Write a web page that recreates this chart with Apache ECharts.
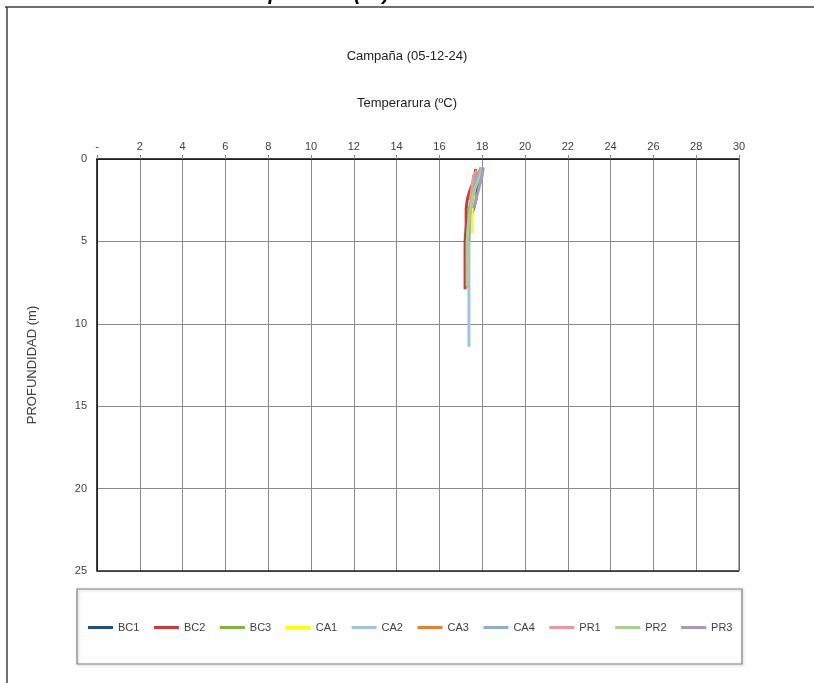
<!DOCTYPE html>
<html>
<head>
<meta charset="utf-8">
<script src="https://cdn.jsdelivr.net/npm/echarts@6/dist/echarts.min.js"></script>
<style>
html,body{margin:0;padding:0;background:#fff;}
#chart{width:814px;height:683px;}
</style>
</head>
<body>
<div id="chart"></div>
<script>
// ---- data ----
const stations = ['BC1','BC2','BC3','CA1','CA2','CA3','CA4','PR1','PR2','PR3'];
const colors = ['#1F4E8C','#D0393B','#7CB342','#FFFF00','#9DC3E6','#ED7D31','#8EA9DB','#E8999A','#A9D08E','#A897C8'];
const xTicks = [0,2,4,6,8,10,12,14,16,18,20,22,24,26,28,30];
const yTicks = [0,5,10,15,20,25];

const depthBC1 = [0.6,1.0,1.5,2.0,2.5,3.0,3.5];
const tempBC1  = [17.95,17.9,17.85,17.75,17.7,17.6,17.45];
const depthBC2 = [0.6,1.0,1.5,2.0,2.5,3.0,4.0,5.0,6.0,7.0,7.9];
const tempBC2  = [17.7,17.65,17.55,17.4,17.3,17.25,17.25,17.2,17.2,17.2,17.2];
const depthBC3 = [0.7,1.0,1.5,2.0,3.0,4.0,5.0,6.0,7.0,7.8];
const tempBC3  = [17.9,17.8,17.7,17.6,17.4,17.35,17.3,17.3,17.3,17.3];
const depthCA1 = [0.6,1.0,1.5,2.0,2.5,3.0,3.5,4.0,4.5];
const tempCA1  = [17.85,17.8,17.7,17.6,17.65,17.55,17.5,17.55,17.5];
const depthCA2 = [0.5,1.0,1.5,2.0,3.0,4.0,5.0,6.0,7.0,8.0,9.0,10.0,11.4];
const tempCA2  = [17.95,17.85,17.7,17.6,17.45,17.4,17.38,17.38,17.38,17.38,17.38,17.38,17.38];
const depthCA3 = [0.8,1.2,1.6,2.0,2.4];
const tempCA3  = [17.8,17.7,17.6,17.5,17.45];
const depthCA4 = [0.5,1.0,1.5,2.0,2.5,3.0,3.5,4.0,5.0];
const tempCA4  = [17.95,17.8,17.6,17.55,17.5,17.45,17.4,17.4,17.38];
const depthPR1 = [0.7,1.0,1.5,2.0,2.5];
const tempPR1  = [17.75,17.6,17.55,17.5,17.45];
const depthPR2 = [0.5,1.0,1.5,2.0,3.0,4.0,5.0,6.0,7.0,7.7];
const tempPR2  = [18.0,17.9,17.75,17.6,17.45,17.35,17.3,17.3,17.3,17.3];
const depthPR3 = [0.5,1.0,1.5,2.0,2.5,3.0];
const tempPR3  = [18.05,18.0,17.9,17.8,17.7,17.6];

const depths = [depthBC1,depthBC2,depthBC3,depthCA1,depthCA2,depthCA3,depthCA4,depthPR1,depthPR2,depthPR3];
const temps  = [tempBC1,tempBC2,tempBC3,tempCA1,tempCA2,tempCA3,tempCA4,tempPR1,tempPR2,tempPR3];

// ---- chart ----
const chart = echarts.init(document.getElementById('chart'), null, {renderer:'canvas'});
const FONT = 'Liberation Sans, Arial, sans-serif';

const series = stations.map((name,i)=>({
  name: name,
  type: 'line',
  showSymbol: false,
  symbol: 'none',
  smooth: false,
  color: colors[i],
  lineStyle: {width: 3, color: colors[i]},
  data: temps[i].map((t,j)=>[t, depths[i][j]])
}));

chart.setOption({
  animation: false,
  backgroundColor: '#fff',
  textStyle: {fontFamily: FONT},
  grid: {left: 97, top: 159, width: 642, height: 412, show: false},
  xAxis: {
    type: 'value', position: 'top', min: 0, max: 30, interval: 2,
    axisLine: {show: true, lineStyle: {color: '#000', width: 1.5}},
    axisTick: {show: true, inside: false, length: 4, lineStyle: {color: '#888'}},
    axisLabel: {color: '#404040', fontSize: 11, fontFamily: FONT, margin: 7,
      formatter: v => v === 0 ? '-' : String(v)},
    splitLine: {show: true, lineStyle: {color: '#8a8a8a', width: 1}}
  },
  yAxis: {
    type: 'value', inverse: true, min: 0, max: 25, interval: 5,
    name: 'PROFUNDIDAD (m)', nameLocation: 'middle', nameRotate: 90, nameGap: 58,
    nameTextStyle: {color: '#404040', fontSize: 13, fontFamily: FONT},
    axisLine: {show: true, lineStyle: {color: '#000', width: 1.5}},
    axisTick: {show: false},
    axisLabel: {color: '#404040', fontSize: 11, fontFamily: FONT, margin: 10},
    splitLine: {show: true, lineStyle: {color: '#8a8a8a', width: 1}}
  },
  legend: {
    data: stations,
    left: 83, top: 617,
    icon: 'rect', itemWidth: 25, itemHeight: 3, itemGap: 14.5,
    textStyle: {color: '#404040', fontSize: 11, fontFamily: FONT}
  },
  graphic: [
    {type:'text', left:'center', top:-16, style:{text:'Temperatura (ºC) estaciones costeras', font:'italic bold 20px Liberation Sans, Arial', fill:'#000'}},
    {type:'line', shape:{x1:5,y1:7,x2:814,y2:7}, style:{stroke:'#404040', lineWidth:1.5}},
    {type:'line', shape:{x1:7,y1:7,x2:7,y2:683}, style:{stroke:'#404040', lineWidth:1.5}},
    {type:'text', left:'center', top:50, style:{text:'Campaña (05-12-24)', font:'13px Liberation Sans, Arial', fill:'#222'}},
    {type:'text', left:'center', top:97, style:{text:'Temperarura (ºC)', font:'13px Liberation Sans, Arial', fill:'#222'}},
    {type:'line', shape:{x1:97,y1:571,x2:739,y2:571}, style:{stroke:'#222', lineWidth:1.5}, z:10},
    {type:'line', shape:{x1:739,y1:159,x2:739,y2:571}, style:{stroke:'#555', lineWidth:1}, z:10},
    {type:'rect', shape:{x:77,y:589,width:665,height:75}, style:{fill:'none', stroke:'#808080', lineWidth:1.2, shadowBlur:3, shadowColor:'rgba(0,0,0,0.25)', shadowOffsetX:1, shadowOffsetY:1}, z:-1}
  ],
  series: series
});
</script>
</body>
</html>
